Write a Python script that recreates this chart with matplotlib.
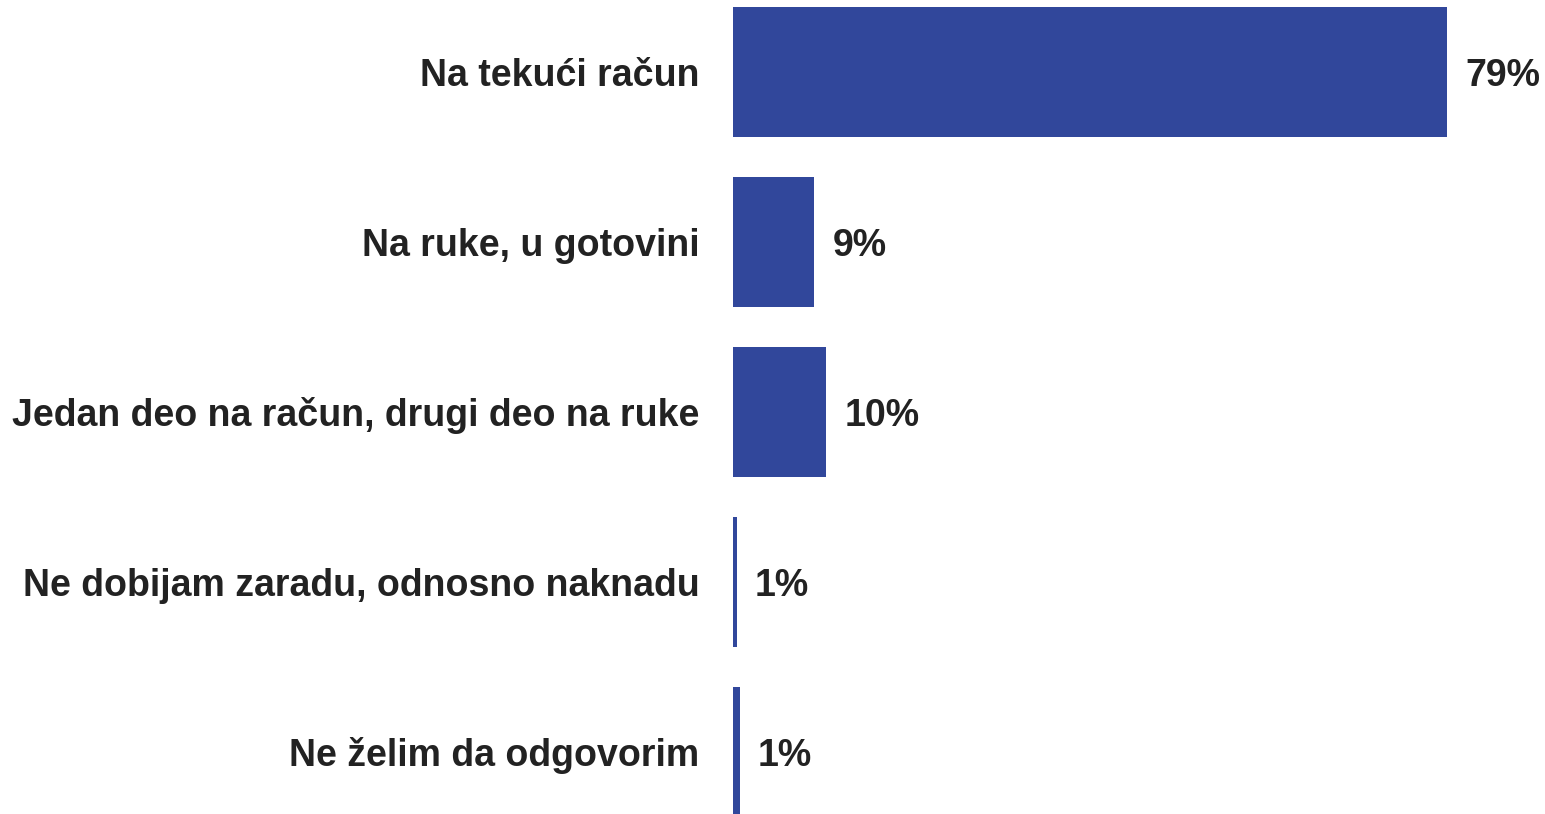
import matplotlib.pyplot as plt

categories = [
    "Na tekući račun",
    "Na ruke, u gotovini",
    "Jedan deo na račun, drugi deo na ruke",
    "Ne dobijam zaradu, odnosno naknadu",
    "Ne želim da odgovorim",
]
values = [79, 9, 10.3, 0.45, 0.75]
labels = ["79%", "9%", "10%", "1%", "1%"]

bar_color = "#31479b"
text_color = "#222222"

plt.rcParams['font.family'] = ['Liberation Sans', 'DejaVu Sans']

fig = plt.figure(figsize=(15.45, 8.14), dpi=100)
ax = fig.add_axes([733 / 1545, 0, 812 / 1545, 1])

pos = list(range(len(categories)))
ax.barh(pos, values, height=130 / 170, color=bar_color)

ax.set_xlim(0, 812 / 9.04)
ax.set_ylim(742 / 170, -72 / 170)

# value labels to the right of each bar
for y, v, lab in zip(pos, values, labels):
    ax.annotate(lab, (v, y), xytext=(13, 0), textcoords='offset points',
                ha='left', va='center_baseline', fontsize=27, fontweight='bold',
                color=text_color)

ax.set_yticks(pos)
ax.set_yticklabels(categories, fontsize=27, fontweight='bold', color=text_color)
ax.tick_params(axis='y', length=0, pad=24)
ax.set_xticks([])
for s in ax.spines.values():
    s.set_visible(False)

fig.savefig("out.png", dpi=100)
